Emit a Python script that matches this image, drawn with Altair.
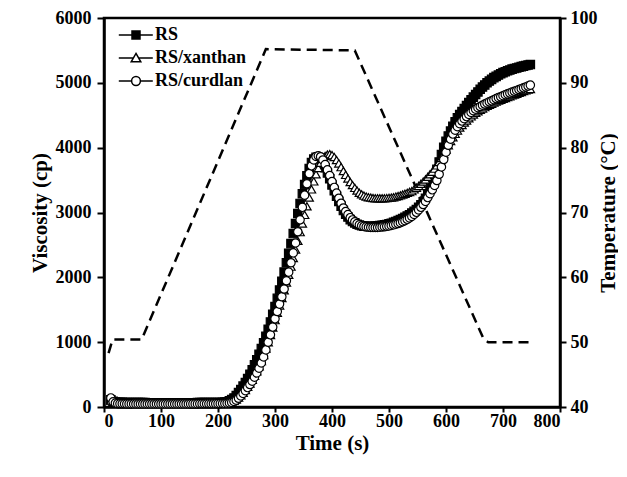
import altair as alt
import pandas as pd

FONT = "Liberation Serif"

series_names = ["RS", "RS/xanthan", "RS/curdlan"]

# sample times (s) of the RVA record, every 4 s
time_s = list(range(12, 749, 4))

# Viscosity (cp): 12..20 | 24..204 | 208..748
rs = [110, 88, 78,
      74, 72, 71, 70, 70, 69, 69, 68, 68, 68,
      67, 67, 67, 66, 66, 66, 66, 65, 65, 65,
      65, 65, 65, 65, 65, 65, 65, 65, 65, 65,
      65, 66, 66, 66, 66, 67, 67, 67, 68, 68,
      68, 69, 69, 69, 70, 70,
      71, 75, 82, 96, 115, 140, 178, 222, 270, 322,
      378, 440, 505, 575, 650, 728, 812, 900, 992, 1090,
      1200, 1312, 1430, 1550, 1675, 1805, 1940, 2080, 2225, 2370,
      2520, 2675, 2830, 2985, 3140, 3290, 3430, 3565, 3680, 3770,
      3825, 3850, 3845, 3815, 3760, 3690, 3610, 3520, 3425, 3335,
      3250, 3170, 3095, 3030, 2975, 2930, 2890, 2860, 2840, 2820,
      2806, 2797, 2790, 2787, 2785, 2785, 2788, 2791, 2795, 2798,
      2802, 2810, 2816, 2825, 2835, 2848, 2862, 2875, 2892, 2908,
      2925, 2945, 2965, 2990, 3017, 3046, 3080, 3118, 3165, 3220,
      3290, 3370, 3460, 3560, 3665, 3780, 3895, 4005, 4100, 4180,
      4255, 4330, 4400, 4460, 4510, 4557, 4603, 4650, 4697, 4740,
      4780, 4820, 4860, 4900, 4935, 4967, 5000, 5027, 5053, 5080,
      5100, 5120, 5140, 5157, 5172, 5185, 5198, 5211, 5220, 5230,
      5240, 5250, 5258, 5266, 5274, 5282]

xanthan = [100, 78, 66,
           60, 59, 58, 58, 57, 57, 57, 56, 56, 56,
           56, 55, 55, 55, 55, 55, 55, 55, 55, 55,
           55, 55, 55, 55, 55, 55, 55, 55, 55, 55,
           55, 56, 56, 56, 56, 57, 57, 57, 57, 58,
           58, 58, 59, 59, 59, 60,
           61, 63, 66, 71, 80, 95, 116, 145, 180, 220,
           262, 310, 362, 418, 480, 552, 630, 710, 802, 900,
           1000, 1112, 1227, 1340, 1453, 1567, 1680, 1800, 1920, 2040,
           2165, 2297, 2430, 2563, 2697, 2830, 2963, 3097, 3230, 3357,
           3480, 3590, 3685, 3768, 3830, 3872, 3895, 3900, 3885, 3855,
           3810, 3757, 3700, 3640, 3580, 3523, 3470, 3423, 3380, 3340,
           3305, 3280, 3260, 3246, 3236, 3230, 3224, 3220, 3220, 3220,
           3220, 3220, 3222, 3226, 3230, 3236, 3245, 3255, 3265, 3277,
           3290, 3303, 3317, 3330, 3357, 3383, 3410, 3443, 3477, 3510,
           3550, 3590, 3630, 3677, 3727, 3780, 3840, 3903, 3970, 4037,
           4103, 4160, 4213, 4263, 4310, 4350, 4387, 4420, 4453, 4483,
           4510, 4537, 4562, 4585, 4605, 4625, 4645, 4662, 4678, 4695,
           4712, 4727, 4740, 4753, 4767, 4780, 4793, 4807, 4820, 4833,
           4847, 4860, 4873, 4887, 4895, 4905]

curdlan = [140, 80, 60,
           52, 50, 49, 49, 48, 48, 48, 47, 47, 47,
           47, 47, 47, 47, 47, 47, 47, 47, 47, 47,
           47, 47, 47, 47, 47, 47, 47, 47, 47, 47,
           47, 47, 48, 48, 48, 48, 49, 49, 49, 50,
           50, 50, 51, 51, 52, 52,
           53, 55, 58, 63, 71, 85, 106, 135, 170, 210,
           253, 300, 347, 398, 460, 525, 598, 680, 772, 880,
           1000, 1113, 1233, 1360, 1473, 1587, 1700, 1820, 1947, 2080,
           2225, 2377, 2530, 2703, 2887, 3080, 3267, 3443, 3600, 3720,
           3810, 3865, 3875, 3860, 3810, 3740, 3657, 3570, 3477, 3387,
           3300, 3220, 3143, 3070, 3015, 2967, 2920, 2885, 2857, 2830,
           2810, 2795, 2785, 2778, 2773, 2770, 2770, 2770, 2770, 2773,
           2777, 2780, 2787, 2793, 2800, 2810, 2820, 2830, 2843, 2858,
           2875, 2895, 2917, 2940, 2970, 3003, 3040, 3080, 3123, 3170,
           3230, 3290, 3350, 3417, 3493, 3590, 3703, 3817, 3930, 4037,
           4130, 4210, 4270, 4323, 4370, 4410, 4447, 4480, 4513, 4543,
           4570, 4593, 4617, 4635, 4655, 4673, 4690, 4707, 4723, 4740,
           4757, 4772, 4785, 4802, 4817, 4830, 4843, 4857, 4870, 4883,
           4897, 4910, 4923, 4937, 4950, 4965]

# Temperature profile (dashed line, right axis)
temp_time = [8, 15, 66, 284, 440, 666, 674, 750]
temp_val = [48.3, 50.4, 50.4, 95.2, 95.0, 50.5, 50.0, 50.0]

x_ticks = [0, 100, 200, 300, 400, 500, 600, 700, 800]
v_ticks = [0, 1000, 2000, 3000, 4000, 5000, 6000]
t_ticks = [40, 50, 60, 70, 80, 90, 100]

rows = []
for name, vals in zip(series_names, [rs, xanthan, curdlan]):
    for t, v in zip(time_s, vals):
        rows.append({"time": t, "viscosity": v, "series": name})
df = pd.DataFrame(rows)
temp_df = pd.DataFrame({"time": temp_time, "temp": temp_val})

x_enc = alt.X("time:Q", scale=alt.Scale(domain=[0, 800], nice=False),
              axis=alt.Axis(values=x_ticks, title="Time (s)", format="d",
                            tickSize=5, labelPadding=0, titlePadding=2))

v_scale = alt.Scale(domain=[0, 6000], nice=False)

temp_line = alt.Chart(temp_df).mark_line(
    color="black", strokeWidth=2.5, strokeDash=[10, 6]
).encode(
    x=x_enc,
    y=alt.Y("temp:Q", scale=alt.Scale(domain=[40, 100], nice=False),
            axis=alt.Axis(orient="right", values=t_ticks, title="Temperature (°C)",
                          titleAngle=270, labelPadding=4, titlePadding=21)),
)

points = alt.Chart(df).mark_point(
    filled=True, size=70, stroke="black", strokeWidth=1.2, opacity=1
).encode(
    x=x_enc,
    y=alt.Y("viscosity:Q", scale=v_scale,
            axis=alt.Axis(values=v_ticks, title="Viscosity (cp)", format="d",
                          tickSize=7, labelPadding=6, titlePadding=5)),
    shape=alt.Shape("series:N", scale=alt.Scale(domain=series_names,
                    range=["square", "triangle-up", "circle"]), legend=None),
    fill=alt.Fill("series:N", scale=alt.Scale(domain=series_names,
                  range=["black", "white", "white"]), legend=None),
)

legend_paths = [
    "M-4.3,0H-1M1,0H4.2M-1,-1H1V1H-1Z",
    "M-4.3,0H-0.6M0.6,0H4.2M0,-1.15L1.2,0.95L-1.2,0.95Z",
    "M-4.3,0H-1.1M1.1,0H4.2M1.1,0A1.1,1.1 0 1,1 -1.1,0A1.1,1.1 0 1,1 1.1,0Z",
]

leg = alt.Legend(title=None, orient="none", legendX=23, legendY=8,
                 symbolSize=64, symbolStrokeWidth=1.5, symbolStrokeColor="black",
                 labelFont=FONT, labelFontSize=18, labelFontWeight="bold",
                 labelColor="black", labelOffset=10, rowPadding=5, padding=0)

legend_layer = alt.Chart(df).transform_filter("false").mark_point(
    filled=False, strokeWidth=1.5, opacity=1
).encode(
    x=x_enc,
    y=alt.Y("viscosity:Q", scale=v_scale, axis=None),
    shape=alt.Shape("series:N", scale=alt.Scale(domain=series_names, range=legend_paths),
                    legend=leg),
    fill=alt.Fill("series:N", scale=alt.Scale(domain=series_names,
                  range=["black", "white", "white"]), legend=leg),
    stroke=alt.Stroke("series:N", scale=alt.Scale(domain=series_names,
                      range=["black", "black", "black"]), legend=leg),
)

chart = alt.layer(temp_line, points, legend_layer).resolve_scale(
    y="independent", shape="independent", fill="independent", stroke="independent"
).properties(
    width=456, height=389,
    autosize=alt.AutoSizeParams(type="none"),
    padding={"left": 96, "top": 10, "right": 58, "bottom": 60},
).configure_view(
    stroke="black", strokeWidth=2.5
).configure_axis(
    grid=False, domainColor="black", domainWidth=2.5, tickColor="black",
    tickWidth=2, tickSize=6, labelFont=FONT, labelFontSize=18,
    labelFontWeight="bold", labelColor="black", titleFont=FONT,
    titleFontSize=21, titleFontWeight="bold", titleColor="black",
)

chart.save("out.html", embed_options={"renderer": "svg", "actions": False})
